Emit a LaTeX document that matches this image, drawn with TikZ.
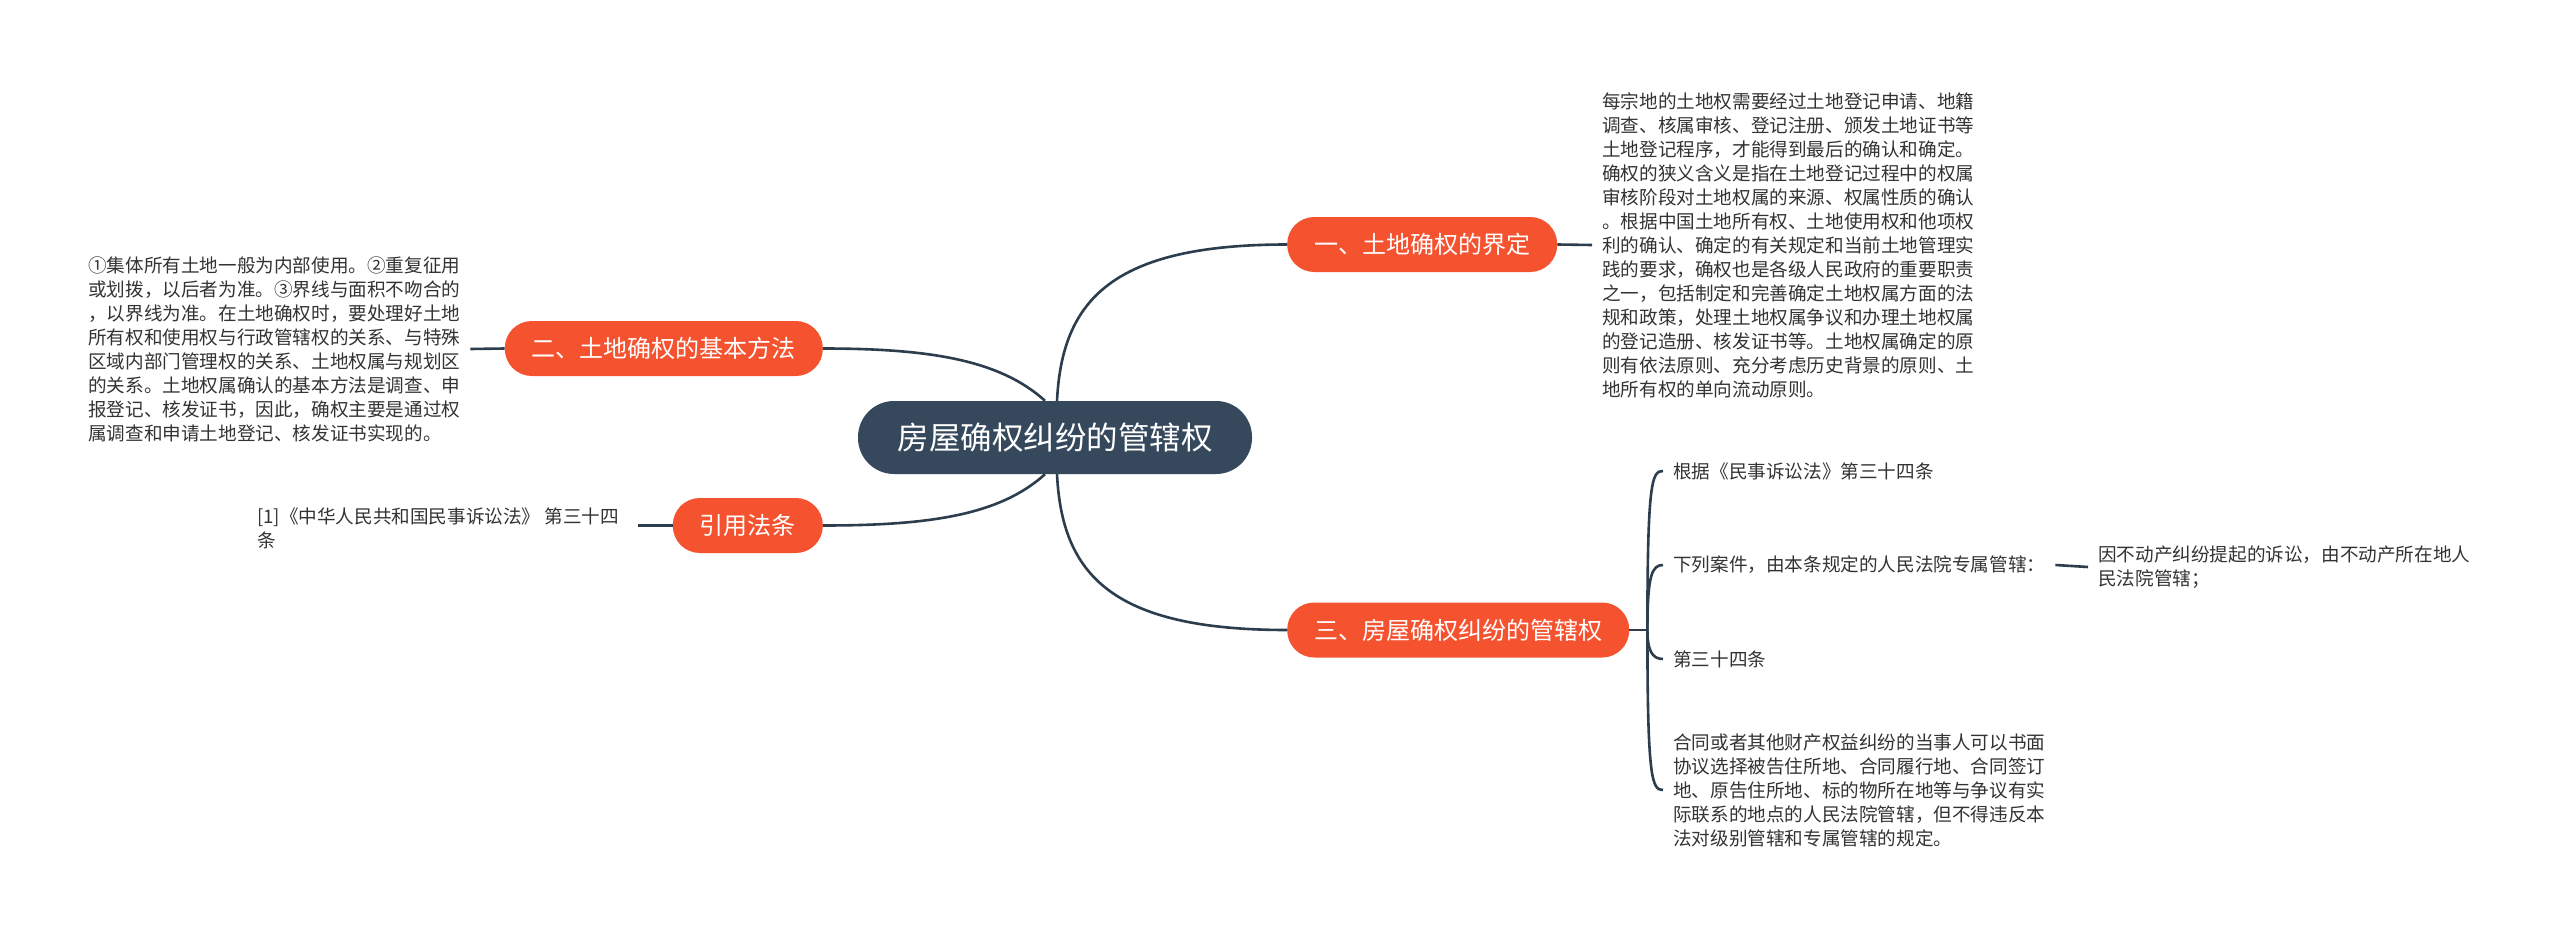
\documentclass[tikz,border=0pt]{standalone}
\usepackage{fontspec}
\setmainfont{Noto Sans CJK SC}
\usetikzlibrary{calc}
\definecolor{orng}{HTML}{F55330}
\definecolor{slate}{HTML}{36495C}
\definecolor{wire}{HTML}{2C3D4E}
\definecolor{txt}{HTML}{333333}
\tikzset{
  rootbox/.style={fill=slate, text=white, rounded corners=36pt, minimum height=73pt,
    minimum width=394pt, inner xsep=0pt, inner ysep=0pt, font=\fontsize{31.5pt}{34pt}\selectfont},
  branchbox/.style={fill=orng, text=white, rounded corners=27pt, minimum height=55pt,
    inner xsep=27pt, inner ysep=0pt, font=\fontsize{24pt}{28pt}\selectfont},
  leaftext/.style={text=txt, align=left, inner sep=0pt, font=\fontsize{18.6pt}{24pt}\selectfont},
  wireline/.style={draw=wire, line width=2.6pt},
}
\begin{document}
\begin{tikzpicture}[x=1pt,y=-1pt]
\fill[white] (0,0) rectangle (2560,939);
\useasboundingbox (0,0) rectangle (2560,939);

% root
\node[rootbox] (c) at (1055,437.5) {房屋确权纠纷的管辖权};

% branches
\node[branchbox, anchor=west] (n1) at (1287,244.5) {一、土地确权的界定};
\node[branchbox, anchor=west] (n3) at (1287,630) {三、房屋确权纠纷的管辖权};
\node[branchbox, anchor=east] (n2) at (823,348.5) {二、土地确权的基本方法};
\node[branchbox, anchor=east] (n4) at (823,525.5) {引用法条};

% leaf texts
\node[leaftext, anchor=west] (rt) at (1602,245) {每宗地的土地权需要经过土地登记申请、地籍\\
调查、核属审核、登记注册、颁发土地证书等\\
土地登记程序，才能得到最后的确认和确定。\\
确权的狭义含义是指在土地登记过程中的权属\\
审核阶段对土地权属的来源、权属性质的确认\\
。根据中国土地所有权、土地使用权和他项权\\
利的确认、确定的有关规定和当前土地管理实\\
践的要求，确权也是各级人民政府的重要职责\\
之一，包括制定和完善确定土地权属方面的法\\
规和政策，处理土地权属争议和办理土地权属\\
的登记造册、核发证书等。土地权属确定的原\\
则有依法原则、充分考虑历史背景的原则、土\\
地所有权的单向流动原则。};

\node[leaftext, anchor=west] (lt) at (88,349) {①集体所有土地一般为内部使用。②重复征用\\
或划拨，以后者为准。③界线与面积不吻合的\\
，以界线为准。在土地确权时，要处理好土地\\
所有权和使用权与行政管辖权的关系、与特殊\\
区域内部门管理权的关系、土地权属与规划区\\
的关系。土地权属确认的基本方法是调查、申\\
报登记、核发证书，因此，确权主要是通过权\\
属调查和申请土地登记、核发证书实现的。};

\node[leaftext, anchor=west] (ct) at (257,528) {[1]《中华人民共和国民事诉讼法》 第三十四\\条};

\node[leaftext, anchor=west] (t1) at (1673,471) {根据《民事诉讼法》第三十四条};
\node[leaftext, anchor=west] (t2) at (1673,565) {下列案件，由本条规定的人民法院专属管辖：};
\node[leaftext, anchor=west] (t5) at (2098,567) {因不动产纠纷提起的诉讼，由不动产所在地人\\民法院管辖；};
\node[leaftext, anchor=west] (t3) at (1673,659) {第三十四条};
\node[leaftext, anchor=west] (t4) at (1673,790) {合同或者其他财产权益纠纷的当事人可以书面\\
协议选择被告住所地、合同履行地、合同签订\\
地、原告住所地、标的物所在地等与争议有实\\
际联系的地点的人民法院管辖，但不得违反本\\
法对级别管辖和专属管辖的规定。};

% root connectors
\draw[wireline] ($(c.north)+(-10,0)$) .. controls (1000,360) and (930,348.5) .. (n2.east);
\draw[wireline] ($(c.south)+(-10,0)$) .. controls (1000,515) and (930,525.5) .. (n4.east);
\draw[wireline] ($(c.north)+(2,0)$) .. controls (1062,300) and (1112,244.5) .. (n1.west);
\draw[wireline] ($(c.south)+(2,0)$) .. controls (1062,575) and (1112,630) .. (n3.west);

% branch-to-leaf connectors
\draw[wireline] (n1.east) -- ($(rt.west)+(-10,0)$);
\draw[wireline] (n2.west) -- ($(lt.east)+(10,0)$);
\draw[wireline] (n4.west) -- ($(n4.west)+(-35,0)$);
\draw[wireline] ($(t2.east)+(10,0)$) -- ($(t5.west)+(-10,0)$);

% bracket for branch 3
\coordinate (b3) at ($(n3.east)+(18,0)$);
\draw[wireline] (n3.east) -- (b3);
\draw[wireline] (b3) .. controls ($(b3)+(0,-150)$) and ($(t1.west)+(-21,0)$) .. ($(t1.west)+(-10,0)$);
\draw[wireline] (b3) .. controls ($(b3)+(0,-55)$) and ($(t2.west)+(-21,0)$) .. ($(t2.west)+(-10,0)$);
\draw[wireline] (b3) .. controls ($(b3)+(0,20)$) and ($(t3.west)+(-21,0)$) .. ($(t3.west)+(-10,0)$);
\draw[wireline] (b3) .. controls ($(b3)+(0,150)$) and ($(t4.west)+(-21,0)$) .. ($(t4.west)+(-10,0)$);
\end{tikzpicture}
\end{document}
